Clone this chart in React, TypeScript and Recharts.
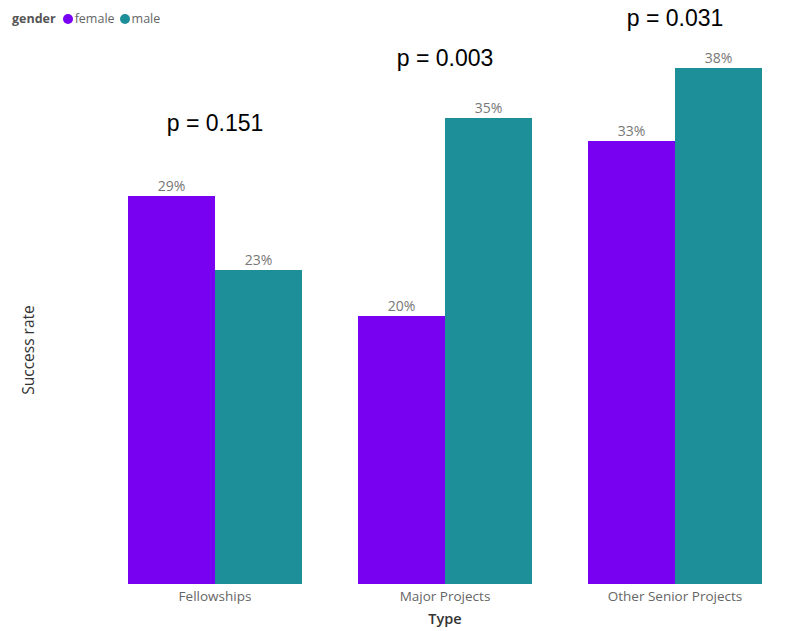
import React from 'react';
import { BarChart, Bar, XAxis, YAxis, LabelList, ReferenceDot, Label } from 'recharts';

document.body.style.margin = '0';

const categories = ['Fellowships', 'Major Projects', 'Other Senior Projects'];
const female = [0.2885, 0.1993, 0.3294];
const male = [0.2335, 0.3465, 0.3836];
const pValues = ['p = 0.151', 'p = 0.003', 'p = 0.031'];
const pValueHeights = [0.343, 0.391, 0.421];

const series = [
  { key: 'female', color: '#7701F0' },
  { key: 'male', color: '#1D8F99' },
];

const data = categories.map((type, i) => ({ type, female: female[i], male: male[i] }));

const uiFont = '"Segoe UI", "Open Sans", "Noto Sans", sans-serif';
const pct = (v: any) => `${Math.round(Number(v) * 100)}%`;

function YTitle() {
  const cx = 28;
  const cy = 350;
  return (
    <text x={cx} y={cy} transform={`rotate(-90 ${cx} ${cy})`} textAnchor="middle" dominantBaseline="central"
      fill="#333" fontSize={15.5} fontFamily={uiFont}>
      Success rate
    </text>
  );
}

export default function App() {
  return (
    <div style={{ position: 'relative', width: 800, height: 631, background: '#fff' }}>
      <BarChart width={800} height={631} data={data} barGap={0} barCategoryGap={28}
        margin={{ top: 46, right: 10, bottom: 0, left: 0 }}>
        <XAxis dataKey="type" height={47} axisLine={false} tickLine={false} tickSize={0} tickMargin={7}
          tick={{ fill: '#666', fontSize: 13.5, fontFamily: uiFont }}>
          <Label value="Type" position="insideBottom" offset={7} fill="#333" fontSize={14.5}
            fontWeight={600} fontFamily={uiFont} />
        </XAxis>
        <YAxis width={100} domain={[0, 0.4]} axisLine={false} tickLine={false} tick={false}>
          <Label content={<YTitle />} />
        </YAxis>
        {series.map((s) => (
          <Bar key={s.key} dataKey={s.key} fill={s.color} isAnimationActive={false}>
            <LabelList dataKey={s.key} position="top" offset={5} formatter={pct}
              fill="#777" fontSize={14} fontFamily={uiFont} />
          </Bar>
        ))}
        {categories.map((c, i) => (
          <ReferenceDot key={c} x={c} y={pValueHeights[i]} r={0} ifOverflow="visible"
            fill="none" stroke="none">
            <Label value={pValues[i]} position="center" fill="#000" fontSize={23}
              fontFamily='"Liberation Sans", Arial, sans-serif' />
          </ReferenceDot>
        ))}
      </BarChart>
      <div style={{ position: 'absolute', left: 12, top: 10, display: 'flex', alignItems: 'center',
        fontFamily: uiFont, fontSize: 12.5, color: '#666', lineHeight: '18px' }}>
        <span style={{ fontWeight: 700, color: '#555', marginRight: 7 }}>gender</span>
        {series.map((s) => (
          <span key={s.key} style={{ display: 'flex', alignItems: 'center', marginRight: 5 }}>
            <span style={{ width: 10, height: 10, borderRadius: 5, background: s.color, marginRight: 2 }} />
            {s.key}
          </span>
        ))}
      </div>
    </div>
  );
}
